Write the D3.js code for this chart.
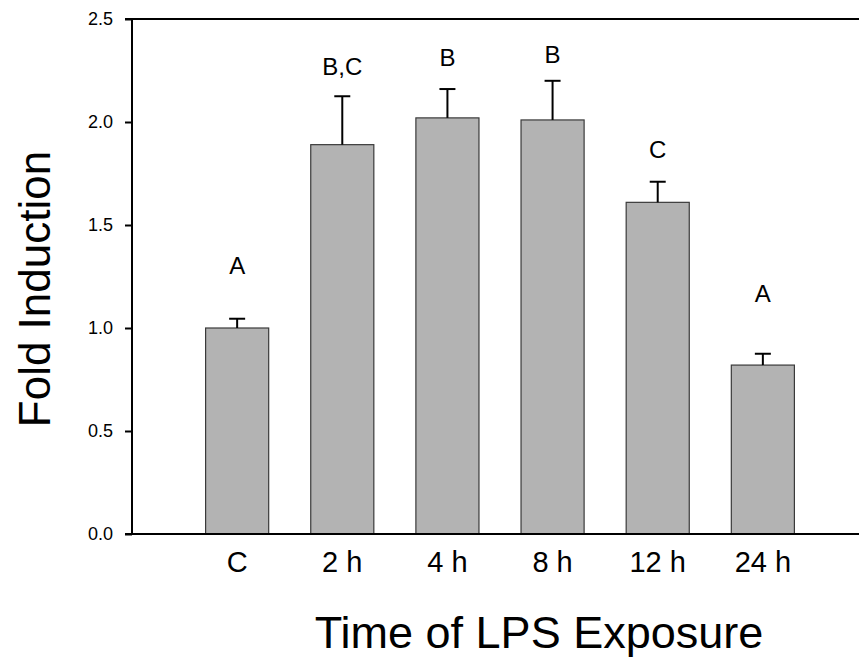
<!DOCTYPE html>
<html>
<head>
<meta charset="utf-8">
<script src="https://cdn.jsdelivr.net/npm/d3@7"></script>
<style>
  body { margin: 0; background: #fff; }
  text { font-family: "Liberation Sans", Arial, sans-serif; }
</style>
</head>
<body>
<div id="chart"></div>
<script>
// chart data
var categories = ["C", "2 h", "4 h", "8 h", "12 h", "24 h"];
var foldValues = [1.00, 1.89, 2.02, 2.01, 1.61, 0.82];
var errValues = [0.045, 0.235, 0.14, 0.19, 0.10, 0.055];
var groupLetters = ["A", "B,C", "B", "B", "C", "A"];
var letterLevels = [1.262, 2.226, 2.272, 2.285, 1.825, 1.128];
var yTicks = [0.0, 0.5, 1.0, 1.5, 2.0, 2.5];

var width = 859,
    height = 658;

var svg = d3.select("#chart").append("svg")
    .attr("width", width)
    .attr("height", height);

// scales: categories sit at positions 1..6 of a 0..7 range, right side runs off the picture
var x = d3.scaleLinear().domain([0, categories.length + 1]).range([132, 868]);
var y = d3.scaleLinear().domain([0, 2.5]).range([534, 19]);
var step = x(1) - x(0);
var barWidth = step * 0.6;

// bars
svg.selectAll(".bar")
    .data(foldValues)
  .enter().append("rect")
    .attr("class", "bar")
    .attr("x", function(d, i){ return x(i + 1) - barWidth / 2; })
    .attr("y", function(d){ return y(d); })
    .attr("width", barWidth)
    .attr("height", function(d){ return y(0) - y(d); })
    .style("fill", "#b3b3b3")
    .style("stroke", "#3a3a3a")
    .style("stroke-width", 1.2);

// error bars (upper only)
svg.selectAll(".err")
    .data(foldValues)
  .enter().append("line")
    .attr("class", "err")
    .attr("x1", function(d, i){ return x(i + 1); })
    .attr("x2", function(d, i){ return x(i + 1); })
    .attr("y1", function(d){ return y(d); })
    .attr("y2", function(d, i){ return y(d + errValues[i]); })
    .style("stroke", "#000")
    .style("stroke-width", 2);

svg.selectAll(".cap")
    .data(foldValues)
  .enter().append("line")
    .attr("class", "cap")
    .attr("x1", function(d, i){ return x(i + 1) - 8; })
    .attr("x2", function(d, i){ return x(i + 1) + 8; })
    .attr("y1", function(d, i){ return y(d + errValues[i]); })
    .attr("y2", function(d, i){ return y(d + errValues[i]); })
    .style("stroke", "#000")
    .style("stroke-width", 2);

// significance letters
svg.selectAll(".letter")
    .data(groupLetters)
  .enter().append("text")
    .attr("class", "letter")
    .attr("x", function(d, i){ return x(i + 1); })
    .attr("y", function(d, i){ return y(letterLevels[i]); })
    .attr("text-anchor", "middle")
    .style("font-size", "24px")
    .text(function(d){ return d; });

// y axis
var yAxis = d3.axisLeft(y)
    .tickValues(yTicks)
    .tickFormat(d3.format(".1f"))
    .tickSize(7)
    .tickPadding(12);

var gy = svg.append("g")
    .attr("transform", "translate(132,0)")
    .call(yAxis);
gy.select(".domain").remove();
gy.selectAll(".tick line").style("stroke", "#000").style("stroke-width", 2);
gy.selectAll(".tick text")
    .style("font-size", "18px")
    .style("font-family", "Liberation Sans, Arial, sans-serif")
    .attr("fill", "#000");

// frame: left, bottom and top lines
svg.append("line")
    .attr("x1", 132).attr("x2", 132)
    .attr("y1", y(2.5)).attr("y2", y(0))
    .style("stroke", "#000").style("stroke-width", 2);
svg.append("line")
    .attr("x1", 125).attr("x2", width)
    .attr("y1", y(0)).attr("y2", y(0))
    .style("stroke", "#000").style("stroke-width", 2);
svg.append("line")
    .attr("x1", 125).attr("x2", width)
    .attr("y1", y(2.5)).attr("y2", y(2.5))
    .style("stroke", "#000").style("stroke-width", 2);

// x tick labels
svg.selectAll(".xlab")
    .data(categories)
  .enter().append("text")
    .attr("class", "xlab")
    .attr("x", function(d, i){ return x(i + 1); })
    .attr("y", 572)
    .attr("text-anchor", "middle")
    .style("font-size", "29px")
    .text(function(d){ return d; });

// axis titles
svg.append("text")
    .attr("x", 539)
    .attr("y", 648)
    .attr("text-anchor", "middle")
    .style("font-size", "45px")
    .text("Time of LPS Exposure");

svg.append("text")
    .attr("transform", "translate(50,289) rotate(-90)")
    .attr("text-anchor", "middle")
    .style("font-size", "44px")
    .text("Fold Induction");
</script>
</body>
</html>
